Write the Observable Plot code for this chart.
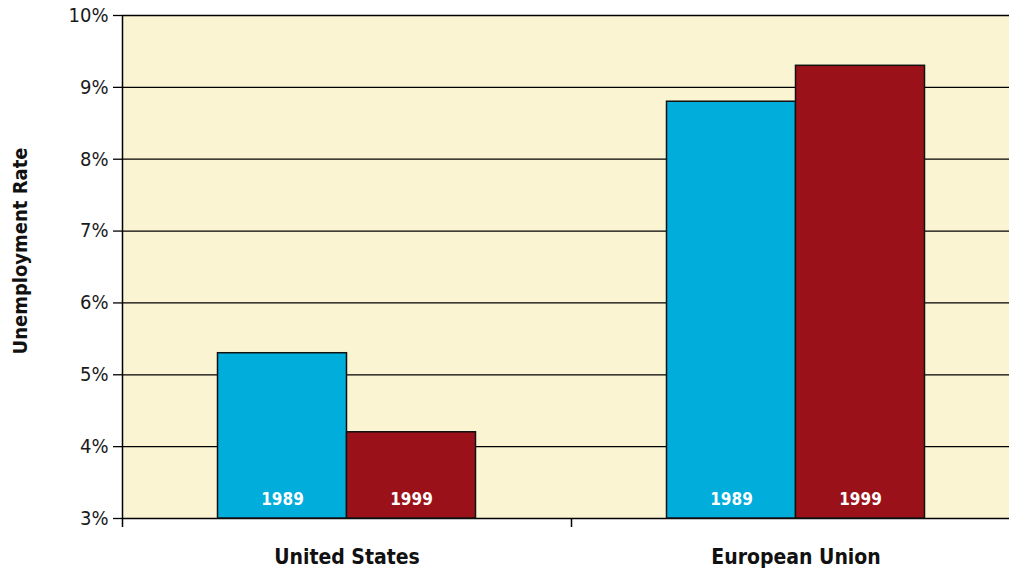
<!DOCTYPE html>
<html>
<head>
<meta charset="utf-8">
<script src="https://cdn.jsdelivr.net/npm/d3@7"></script>
<script src="https://cdn.jsdelivr.net/npm/@observablehq/plot@0.6"></script>
<style>
  html, body { margin: 0; padding: 0; background: #fff; overflow: hidden; }
</style>
</head>
<body>
<div id="chart"></div>
<script>
const countries = ["United States", "European Union"];
const years = ["1989", "1999"];
const rate1989 = [5.3, 8.8];
const rate1999 = [4.2, 9.3];
const yTicks = [3, 4, 5, 6, 7, 8, 9, 10];
const yLabel = "Unemployment Rate";

const colors = {"1989": "#00ADDB", "1999": "#9B1119"};
const barW = 0.2873; // fraction of a category step

const rows = [];
countries.forEach((c, i) => {
  rows.push({country: c, i, year: years[0], value: rate1989[i], side: -1});
  rows.push({country: c, i, year: years[1], value: rate1999[i], side: 0});
});
rows.forEach(d => { d.x1 = d.i + 0.5 + d.side * barW; d.x2 = d.x1 + barW; d.xm = (d.x1 + d.x2) / 2; });

const font = "'Liberation Sans Narrow', 'DejaVu Sans Condensed', 'Roboto Condensed', sans-serif";

const chart = Plot.plot({
  width: 1009,
  height: 572,
  marginLeft: 122,
  marginRight: 0,
  marginTop: 15,
  marginBottom: 54,
  style: {fontFamily: font, fontSize: "20px", color: "#1a1a1a", background: "#fff", fontStretch: "condensed"},
  x: {domain: [0, countries.length], range: [122, 1020], axis: null},
  y: {domain: [3, 10], ticks: yTicks, label: null},
  marks: [
    Plot.frame({fill: "#FAF4D2", stroke: null}),
    Plot.gridY(yTicks, {stroke: "#000", strokeOpacity: 1, strokeWidth: 1.3}),
    Plot.rectY(rows, {x1: "x1", x2: "x2", y1: 3, y2: "value", fill: d => colors[d.year], stroke: "#111", strokeWidth: 1.5}),
    Plot.text(rows, {x: "xm", y: 3, text: "year", dy: -19, fill: "#fff", fontWeight: "bold", fontSize: 17}),
    Plot.ruleX([0], {stroke: "#000", strokeWidth: 1.5, insetBottom: -9}),
    Plot.ruleX(d3.range(1, countries.length), {stroke: "#000", strokeWidth: 1.5, insetTop: 503, insetBottom: -9}),
    Plot.axisY(yTicks, {anchor: "left", tickSize: 9, tickPadding: 5, tickFormat: d => d + "%", fontSize: 20, label: null, stroke: "#000", strokeWidth: 1.3}),
    Plot.text(countries, {x: (d, i) => i + 0.5, frameAnchor: "bottom", dy: 45, fontWeight: "bold", fontSize: 21, fill: "#111"}),
    Plot.text([yLabel], {frameAnchor: "left", textAnchor: "middle", dx: -102, dy: -16, rotate: -90, fontWeight: "bold", fontSize: 20, fill: "#111"})
  ]
});
document.getElementById("chart").appendChild(chart);
</script>
</body>
</html>
